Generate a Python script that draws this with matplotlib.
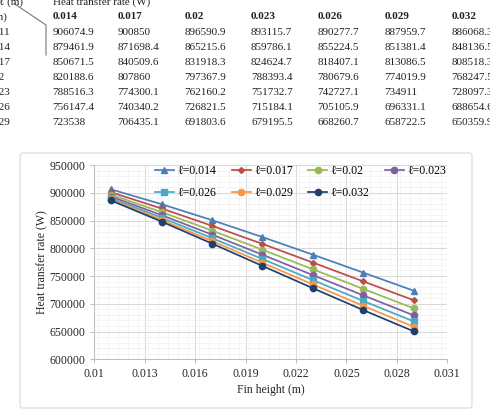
import matplotlib
matplotlib.use('Agg')
import matplotlib.pyplot as plt
from matplotlib.patches import FancyBboxPatch
from matplotlib.lines import Line2D
from matplotlib.ticker import MultipleLocator
import numpy as np

# fin heights (m) and fin spacing values (m)
fin_height = [0.011, 0.014, 0.017, 0.02, 0.023, 0.026, 0.029]
spacing = [0.014, 0.017, 0.02, 0.023, 0.026, 0.029, 0.032]
x_ticks = [0.01, 0.013, 0.016, 0.019, 0.022, 0.025, 0.028, 0.031]

# heat transfer rate (W), one list per spacing value
q_014 = [906074.9, 879461.9, 850671.5, 820188.6, 788516.3, 756147.4, 723538]
q_017 = [900850, 871698.4, 840509.6, 807860, 774300.1, 740340.2, 706435.1]
q_020 = [896590.9, 865215.6, 831918.3, 797367.9, 762160.2, 726821.5, 691803.6]
q_023 = [893115.7, 859786.1, 824624.7, 788393.4, 751732.7, 715184.1, 679195.5]
q_026 = [890277.7, 855224.5, 818407.1, 780679.6, 742727.1, 705105.9, 668260.7]
q_029 = [887959.7, 851381.4, 813086.5, 774019.9, 734911, 696331.1, 658722.5]
q_032 = [886068.3, 848136.5, 808518.3, 768247.5, 728097.3, 688654.6, 650359.9]
series = [q_014, q_017, q_020, q_023, q_026, q_029, q_032]

colors = ['#4A7EBB', '#BE4B48', '#98B954', '#7D60A0', '#46AAC5', '#F79646', '#1F3F6E']
markers = ['^', 'D', 'o', 'o', 's', 'o', 'o']
msizes = [5, 3, 4.5, 4.5, 4.5, 4.5, 4.5]

W, H = 490, 412
fig = plt.figure(figsize=(W / 100, H / 100), dpi=100)

def fx(x):
    return x / W

def fy(y):
    return 1 - y / H

def fmt(v):
    if abs(v) < 1:
        return f'{v:g}'
    return format(v, '.1f').rstrip('0').rstrip('.')

# ---- table above the chart ----
tfont = ['Liberation Serif', 'DejaVu Serif']
tcol = '#222222'
tsize = 8
col_x = [52.7, 117.3, 184.3, 251, 317.7, 384.3, 451.7]
row_y = [32.3, 47.3, 62.3, 77.3, 92.3, 107.3, 122.3]

fig.text(fx(-1), fy(2.5), '\u2113 (m)', family=tfont, size=tsize, color=tcol, va='center')
fig.text(fx(col_x[0]), fy(2.5), 'Heat transfer rate (W)', family=tfont, size=tsize, color=tcol, va='center')
fig.text(fx(-8), fy(16.7), '(m)', family=tfont, size=tsize, color=tcol, va='center')
for x, s in zip(col_x, spacing):
    fig.text(fx(x), fy(16.7), fmt(s), family=tfont, size=tsize, color=tcol, va='center', weight='bold')
for i, h in enumerate(fin_height):
    fig.text(fx(-14.5), fy(row_y[i]), fmt(h), family=tfont, size=tsize, color=tcol, va='center')
    for j, s in enumerate(series):
        fig.text(fx(col_x[j]), fy(row_y[i]), fmt(s[i]), family=tfont, size=tsize, color=tcol, va='center')
fig.add_artist(Line2D([fx(14), fx(46), fx(46)], [fy(3.5), fy(25), fy(55)],
                      transform=fig.transFigure, color='#777777', lw=0.8))

# ---- chart border ----
fig.add_artist(FancyBboxPatch((fx(20), fy(408)), fx(452), 255 / H,
                              boxstyle='round,pad=0,rounding_size=0.006',
                              transform=fig.transFigure, facecolor='white',
                              edgecolor='#D9D9D9', lw=0.8, zorder=0))

cfont = ['Liberation Serif', 'DejaVu Serif']
ax = fig.add_axes([fx(94.3), fy(359.3), (447.3 - 94.3) / W, (359.3 - 165) / H])
ax.set_facecolor('none')

for s, q, c, m, ms in zip(spacing, series, colors, markers, msizes):
    ax.plot(fin_height, q, color=c, marker=m, markersize=ms, lw=1.25,
            label='\u2113=' + fmt(s))

ax.set_xlim(0.01, 0.031)
ax.set_ylim(600000, 950000)
ax.xaxis.set_minor_locator(MultipleLocator(0.0006))
ax.yaxis.set_major_locator(MultipleLocator(50000))
ax.yaxis.set_minor_locator(MultipleLocator(10000))
ax.set_xticks(x_ticks)
ax.set_xticklabels([fmt(v) for v in x_ticks])
ax.grid(which='major', color='#D9D9D9', lw=0.75)
ax.grid(which='minor', color='#F0F0F0', lw=0.5)
ax.set_axisbelow(True)
for side in ['top', 'right']:
    ax.spines[side].set_visible(False)
for side in ['left', 'bottom']:
    ax.spines[side].set_color('#BFBFBF')
    ax.spines[side].set_linewidth(0.75)
ax.tick_params(which='major', length=3, width=0.75, color='#BFBFBF', pad=3.5,
               labelsize=8.5, labelcolor='#262626')
ax.tick_params(which='minor', length=0)
for lab in ax.get_xticklabels() + ax.get_yticklabels():
    lab.set_family(cfont)

ax.set_xlabel('Fin height (m)', family=cfont, size=8.5, color='#262626', labelpad=3)
ax.set_ylabel('Heat transfer rate (W)', family=cfont, size=8.5, color='#262626', labelpad=1)

handles, labels = ax.get_legend_handles_labels()
order = [0, 4, 1, 5, 2, 6, 3]
ax.legend([handles[i] for i in order], [labels[i] for i in order], ncol=4,
          loc='upper left', bbox_to_anchor=(0.172, 1.0), frameon=False,
          borderaxespad=0, borderpad=0, handlelength=1.6, handletextpad=0.3,
          columnspacing=1.3, labelspacing=0.85,
          prop={'family': cfont, 'size': 8.5})

fig.savefig('out.png', dpi=100)
